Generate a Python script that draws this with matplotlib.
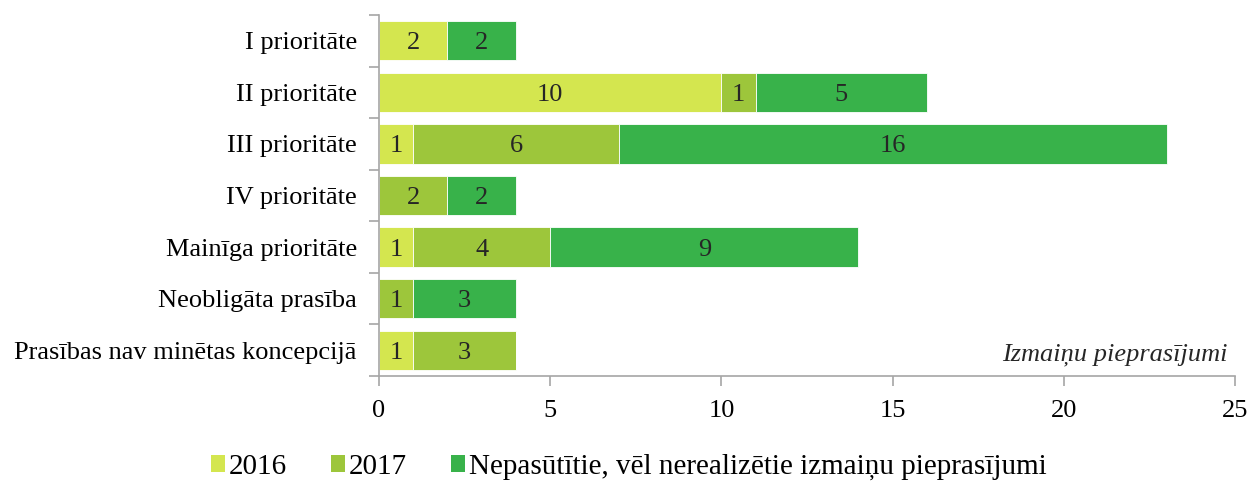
import numpy as np
import matplotlib.pyplot as plt
from matplotlib.patches import Patch

plt.rcParams['font.family'] = ['Liberation Serif', 'DejaVu Serif']

categories = ["I prioritāte", "II prioritāte", "III prioritāte", "IV prioritāte",
              "Mainīga prioritāte", "Neobligāta prasība", "Prasības nav minētas koncepcijā"]
v2016 = [2, 10, 1, 0, 1, 0, 1]
v2017 = [0, 1, 6, 2, 4, 1, 3]
v_nep = [2, 5, 16, 2, 9, 3, 0]
series_names = ["2016", "2017", "Nepasūtītie, vēl nerealizētie izmaiņu pieprasījumi"]
colors = ["#d4e64f", "#9dc63b", "#38b24a"]

fs = 19

fig = plt.figure(figsize=(12.5, 4.83), dpi=100)
ax = fig.add_axes([0.3032, 0.2215, 0.6848, 0.7475])

y = np.arange(len(categories))
left = np.zeros(len(categories))
for vals, col in zip([v2016, v2017, v_nep], colors):
    vals = np.array(vals, dtype=float)
    ax.barh(y, vals, left=left, height=0.76, color=col, edgecolor="white", linewidth=0.6)
    for yi, l, v in zip(y, left, vals):
        if v > 0:
            ax.text(l + v / 2, yi, f"{int(v)}", ha="center", va="center_baseline",
                    fontsize=fs, color="#262626")
    left += vals

ax.set_xlim(0, 25)
ax.set_ylim(len(categories) - 0.5, -0.5)
ax.set_xticks([0, 5, 10, 15, 20, 25])
ax.tick_params(axis="x", labelsize=fs, length=7, color="#a6a6a6", width=1.2, pad=10)
ax.set_yticks(y)
ax.set_yticklabels(categories, fontsize=fs)
ax.set_yticks(np.arange(-0.5, len(categories), 1), minor=True)
ax.tick_params(axis="y", which="major", length=0, pad=16)
ax.tick_params(axis="y", which="minor", length=7, color="#a6a6a6", width=1.2)

for s in ["top", "right"]:
    ax.spines[s].set_visible(False)
for s in ["left", "bottom"]:
    ax.spines[s].set_color("#a6a6a6")
    ax.spines[s].set_linewidth(1.2)

ax.text(0.991, 0.06, "Izmaiņu pieprasījumi", transform=ax.transAxes, ha="right",
        va="center", fontsize=fs, style="italic", color="#262626")

handles = [Patch(facecolor=c, edgecolor="none") for c in colors]
fig.legend(handles, series_names, loc="center", bbox_to_anchor=(0.503, 0.033),
           ncol=3, frameon=False, fontsize=21, handlelength=0.5, handleheight=0.5,
           handletextpad=0.12, columnspacing=1.5)

fig.savefig("out.png", dpi=100)
